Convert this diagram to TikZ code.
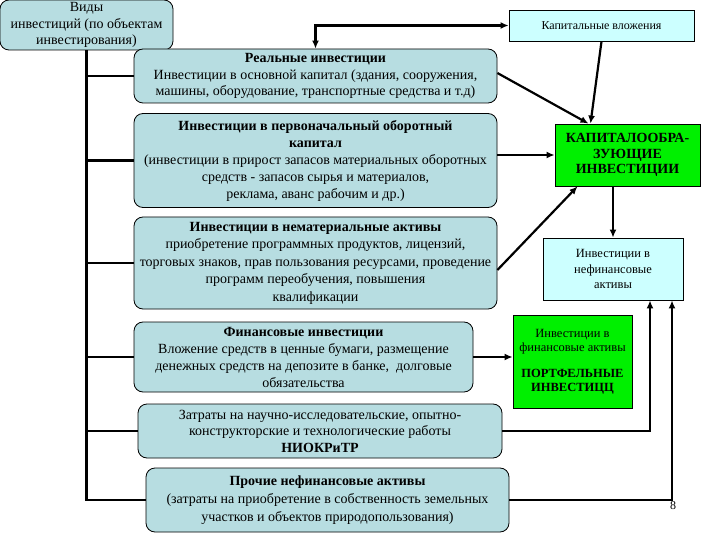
\documentclass[tikz,border=0pt]{standalone}
\usepackage{fontspec}
\setmainfont{Liberation Serif}
\usetikzlibrary{arrows.meta,calc}
\definecolor{teal}{HTML}{B7DDE1}
\definecolor{icecyan}{HTML}{CCFFFF}
\definecolor{brightgreen}{HTML}{00F000}
\tikzset{
  base/.style={draw=black,line width=0.8pt,align=center,inner sep=1pt,font=\fontsize{14}{16.5}\selectfont},
  kind/.style={base,fill=teal,rounded corners=9pt},
  form/.style={base,fill=icecyan,font=\fontsize{12}{15}\selectfont},
  capital/.style={base,fill=brightgreen},
  link/.style={line width=2.2pt,draw=black},
  flow/.style={link,-{Latex[length=8pt,width=7pt]}}
}
\begin{document}
\begin{tikzpicture}[x=1pt,y=-1pt]
\useasboundingbox (0,0) rectangle (720,540);
\fill[white] (0,0) rectangle (720,540);

% classification boxes
\node[kind,minimum width=173,minimum height=50,font=\fontsize{14}{16.5}\selectfont] (vidy) at (86.5,25) {Виды\\инвестиций (по объектам\\инвестирования)};
\node[kind,minimum width=363,minimum height=54] (real) at (315.5,76) {\textbf{Реальные инвестиции}\\Инвестиции в основной капитал (здания, сооружения,\\машины, оборудование, транспортные средства и т.д)};
\node[kind,minimum width=363,minimum height=94,font=\fontsize{14}{17}\selectfont] (oborot) at (315.5,160.5) {\textbf{Инвестиции в первоначальный оборотный}\\\textbf{капитал}\\(инвестиции в прирост запасов материальных оборотных\\средств - запасов сырья и материалов,\\реклама, аванс рабочим и др.)};
\node[kind,minimum width=363,minimum height=92,font=\fontsize{14}{17.5}\selectfont] (nemat) at (315.5,263) {\textbf{Инвестиции в нематериальные активы}\\приобретение программных продуктов, лицензий,\\торговых знаков, прав пользования ресурсами, проведение\\программ переобучения, повышения\\квалификации};
\node[kind,minimum width=339,minimum height=70,font=\fontsize{14}{17}\selectfont] (fin) at (303.5,357) {\textbf{Финансовые инвестиции}\\Вложение средств в ценные бумаги, размещение\\денежных средств на депозите в банке,\ \ долговые\\обязательства};
\node[kind,minimum width=364,minimum height=54] (niokr) at (320,431) {Затраты на научно-исследовательские, опытно-\\конструкторские и технологические работы\\\textbf{НИОКРиТР}};
\node[kind,minimum width=363,minimum height=64,font=\fontsize{14}{18}\selectfont] (prochie) at (327.5,500) {\textbf{Прочие нефинансовые активы}\\(затраты на приобретение в собственность земельных\\участков и объектов природопользования)};

% right column
\node[form,minimum width=185,minimum height=31] (kv) at (601.5,25.5) {Капитальные вложения};
\node[capital,minimum width=145,minimum height=62,font=\bfseries\fontsize{14}{15.5}\selectfont] (kapobr) at (627.5,155) {КАПИТАЛООБРА-\\ЗУЮЩИЕ\\ИНВЕСТИЦИИ};
\node[form,minimum width=140,minimum height=62,font=\fontsize{12.5}{15.5}\selectfont] (nefin) at (613,269) {Инвестиции в\\нефинансовые\\активы};
\node[capital,minimum width=119,minimum height=93,font=\fontsize{12.5}{14}\selectfont] (portf) at (572.5,361.5) {Инвестиции в\\финансовые активы\\[12pt]\textbf{ПОРТФЕЛЬНЫЕ}\\\textbf{ИНВЕСТИЦЦ}};

% trunk and branches
\draw[link] (vidy.south) |- (prochie.west);
\draw[link] (vidy.south |- real.west) -- (real.west);
\draw[link] (vidy.south |- oborot.west) -- (oborot.west);
\draw[link] (vidy.south |- nemat.west) -- (nemat.west);
\draw[link] (vidy.south |- fin.west) -- (fin.west);
\draw[link] (vidy.south |- niokr.west) -- (niokr.west);

% arrows to the right column
\draw[flow,{Latex[length=8pt,width=7pt]}-{Latex[length=8pt,width=7pt]}] (real.north) |- (kv.west);
\draw[flow] ([yshift=3pt]real.east) -- ([xshift=-39pt]kapobr.north);
\draw[flow] (kv.south) -- ([xshift=-37pt]kapobr.north);
\draw[flow] (oborot.east |- kapobr.west) -- (kapobr.west);
\draw[flow] ([yshift=-7pt]nemat.east) -- ([xshift=-50pt]kapobr.south);
\draw[flow] (nefin.north |- kapobr.south) -- (nefin.north);
\draw[flow] (fin.east) -- (fin.east -| portf.west);
\draw[flow] (niokr.east) -| ([xshift=37pt]nefin.south);
\draw[flow] (prochie.east) -| ([xshift=59pt]nefin.south);

\node[font=\fontsize{12}{12}\selectfont,inner sep=0pt] (slide) at (673,506) {8};
\end{tikzpicture}
\end{document}
